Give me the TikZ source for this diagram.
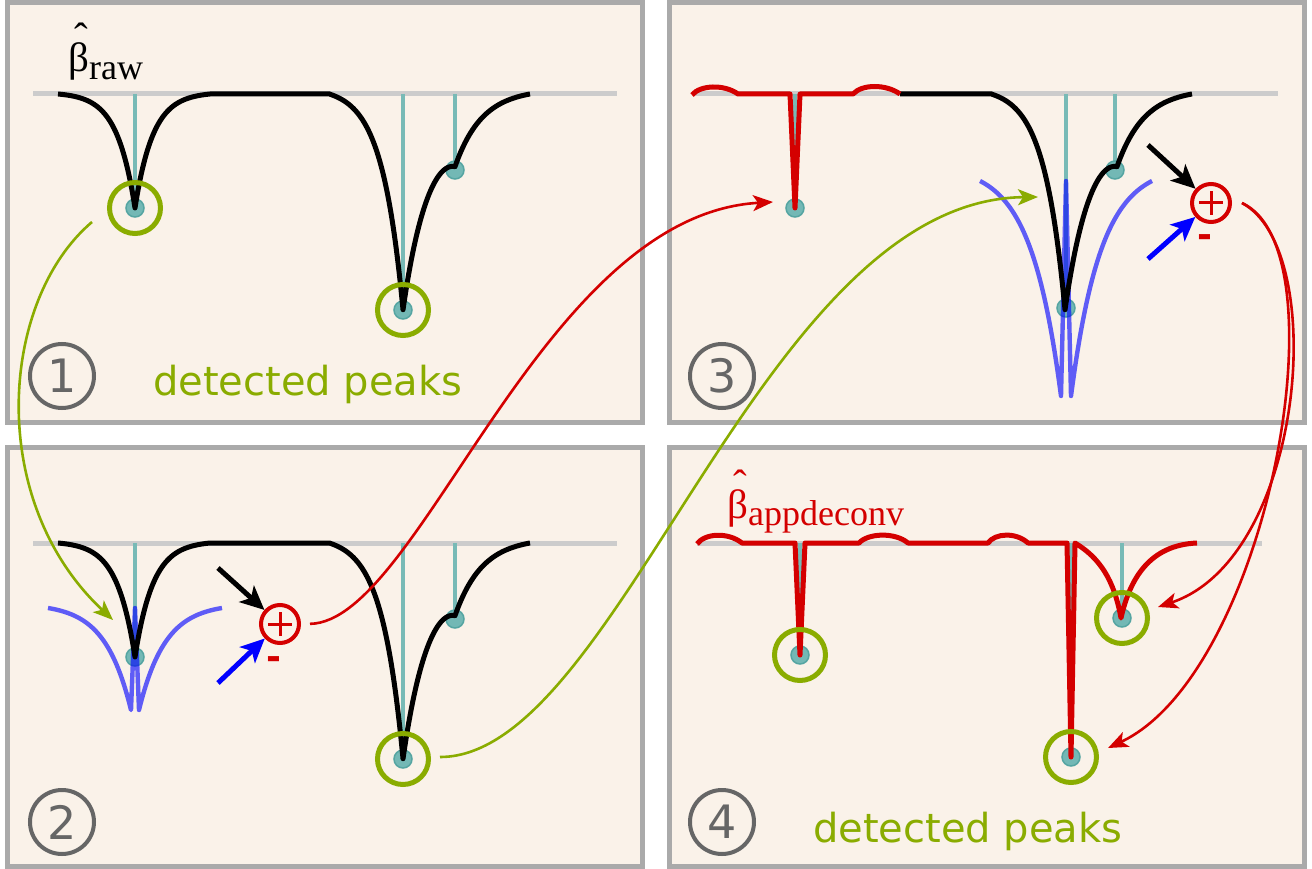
\documentclass[tikz,border=0pt]{standalone}
\usepackage{fontspec}
\setmainfont{DejaVu Sans}
\newfontfamily\serifface{Liberation Serif}
\newfontfamily\boldsans{DejaVu Sans Bold}
\usetikzlibrary{arrows.meta}

\definecolor{panelbg}{RGB}{250,242,233}
\definecolor{panelrim}{RGB}{170,170,170}
\definecolor{zeroline}{RGB}{204,204,204}
\definecolor{stick}{RGB}{120,186,182}
\definecolor{dotfill}{RGB}{115,184,181}
\definecolor{dotrim}{RGB}{85,165,162}
\definecolor{peakgreen}{RGB}{138,172,0}
\definecolor{estred}{RGB}{212,0,0}
\definecolor{numgray}{RGB}{102,102,102}

% left dip of the raw estimate (x in 58..210, baseline y=94), continues from (58,94)
\newcommand\leftdip{%
  -- plot[domain=58:135,samples=78] (\x,{94+114*ex(135-\x,18,77)})
  -- plot[domain=135:210,samples=76] (\x,{94+114*ex(\x-135,18,75)})}
% double dip of the raw estimate (x in 330..530), continues from (330,94)
\newcommand\rightdip{%
  -- plot[domain=330:403,samples=74] (\x,{94+211*ex(403-\x,21,73)+38*exp(-(455-\x)/25)})
  -- plot[domain=403:455,samples=53] (\x,{94+211*ex(\x-403,30,127)+38*exp(-(455-\x)/25)})
  -- plot[domain=455:530,samples=76] (\x,{94+211*ex(\x-403,30,127)+38*ex(\x-455,25,75)})}

\begin{document}
\begin{tikzpicture}[x=1pt,y=-1pt,
  declare function={ex(\d,\w,\D)=(exp(-(\d)/(\w))-exp(-(\D)/(\w)))/(1-exp(-(\D)/(\w)));},
  panel/.style={draw=panelrim,line width=5pt,fill=panelbg},
  zero/.style={draw=zeroline,line width=5pt},
  stickline/.style={draw=stick,line width=4.6pt},
  spot/.style={circle,draw=dotrim,fill=dotfill,line width=1.5pt,minimum size=18pt,inner sep=0pt},
  ring/.style={circle,draw=peakgreen,line width=5pt,minimum size=51pt,inner sep=0pt},
  trace/.style={line width=5pt,line join=round},
  kernel/.style={draw=blue,draw opacity=0.62,line width=4.4pt,line join=round},
  flow/.style={line width=2.6pt,-{Stealth[length=20pt,width=16pt,inset=5pt]}},
  push/.style={line width=5pt,-{Stealth[length=24pt,width=22pt,inset=6pt]}},
  sumnode/.style={circle,draw=estred,line width=4pt,minimum size=38pt,inner sep=0pt,
    path picture={\draw[estred,line width=3pt]
      (path picture bounding box.center) +(-12pt,0pt) -- +(12pt,0pt)
      (path picture bounding box.center) +(0pt,-12pt) -- +(0pt,12pt);}},
  minus/.style={text=estred,font=\boldsans\fontsize{36}{36}\selectfont,inner sep=0pt},
  stepnum/.style={circle,draw=numgray,line width=4pt,minimum size=64pt,inner sep=0pt,
    text=numgray,font=\fontsize{46}{46}\selectfont},
  found/.style={text=peakgreen,font=\fontsize{40}{42}\selectfont,inner sep=0pt,anchor=base west},
  hatlabel/.style={inner sep=0pt,anchor=base west,font=\serifface\fontsize{41}{41}\selectfont}]

\useasboundingbox (0,0) rectangle (1312,869);
\fill[white] (0,0) rectangle (1312,869);

% ---------- the four panels ----------
\path[panel] (7.5,2.5) rectangle (642.5,422.5);
\path[panel] (7.5,447.5) rectangle (642.5,866.5);
\path[panel] (669.5,2.5) rectangle (1304.5,422.5);
\path[panel] (669.5,447.5) rectangle (1304.5,866.5);

% ---------- panel 1: raw estimate and detected peaks ----------
\draw[zero] (33,94) -- (617,94);
\draw[stickline] (135,94) -- (135,208);
\draw[stickline] (403,94) -- (403,310);
\draw[stickline] (455,94) -- (455,170);
\node[spot] (a1) at (135,208) {};
\node[spot] (a2) at (403,310) {};
\node[spot] (a3) at (455,170) {};
\draw[trace] (58,94) \leftdip -- (330,94) \rightdip;
\node[ring] (ra1) at (135,208) {};
\node[ring] (ra2) at (403,310) {};
\node[hatlabel] (rawlabel) at (68,72)
  {\makebox[0pt][l]{\hspace{6pt}\raisebox{20pt}{ˆ}}β\raisebox{-8pt}{\fontsize{36}{36}\selectfont raw}};
\node[stepnum] (n1) at (62,376) {1};
\node[found] (det1) at (153,395) {detected peaks};

% ---------- panel 2: subtract the kernel at the first peak ----------
\begin{scope}[shift={(0,449)}]
  \draw[zero] (33,94) -- (617,94);
  \draw[stickline] (135,94) -- (135,208);
  \draw[stickline] (403,94) -- (403,310);
  \draw[stickline] (455,94) -- (455,170);
  \node[spot] (b1) at (135,208) {};
  \node[spot] (b2) at (403,310) {};
  \node[spot] (b3) at (455,170) {};
\end{scope}
\draw[kernel] (48,608) -- plot[domain=48:131,samples=84] (\x,{608+102*ex(131-\x,26,83)})
  -- (135,608) -- (139,710)
  -- plot[domain=139:222,samples=84] (\x,{608+102*ex(\x-139,26,83)});
\begin{scope}[shift={(0,449)}]
  \draw[trace] (58,94) \leftdip -- (330,94) \rightdip;
  \node[ring] (rb2) at (403,310) {};
\end{scope}
\node[stepnum] (n2) at (62,822) {2};
\node[sumnode] (plusA) at (280,624) {};
\node[minus] (minusA) at (274,663) {-};
\coordinate (blackA) at (218,568);
\coordinate (blueA) at (218,683);
\draw[push,black] (blackA) -- (plusA);
\draw[push,blue] (blueA) -- (plusA);

% ---------- panel 3: subtract the kernel at the second peak ----------
\draw[zero] (695,94) -- (1278,94);
\draw[stickline] (795,94) -- (795,208);
\begin{scope}[shift={(662,0)}]
  \draw[stickline] (404,94) -- (404,308);
  \draw[stickline] (453,94) -- (453,170);
  \node[spot] (c2) at (404,308) {};
  \node[spot] (c3) at (453,170) {};
\end{scope}
\node[spot] (c1) at (795,208) {};
\draw[kernel] (980,181) -- plot[domain=980:1061,samples=82] (\x,{181+215*ex(1061-\x,30,81)})
  -- (1066,181) -- (1071,396)
  -- plot[domain=1071:1152,samples=82] (\x,{181+215*ex(\x-1071,30,81)});
\begin{scope}[shift={(662,0)}]
  \draw[trace] (238,94) -- (330,94) \rightdip;
\end{scope}
\draw[trace,estred] (692,95) .. controls (700,85) and (724,84) .. (738,94)
  -- (790,94) -- (795,208) -- (800,94) -- (853,94)
  .. controls (862,84) and (886,84) .. (900,94);
\node[stepnum] (n3) at (722,376) {3};
\node[sumnode] (plusB) at (1211,203) {};
\node[minus] (minusB) at (1205,241) {-};
\coordinate (blackB) at (1148,145);
\coordinate (blueB) at (1148,259);
\draw[push,black] (blackB) -- (plusB);
\draw[push,blue] (blueB) -- (plusB);

% ---------- panel 4: deconvolved estimate and detected peaks ----------
\draw[zero] (697,543) -- (1262,543);
\draw[stickline] (800,543) -- (800,655);
\draw[stickline] (1071,543) -- (1071,757);
\draw[stickline] (1122,543) -- (1122,618);
\node[spot] (d1) at (800,655) {};
\node[spot] (d2) at (1071,757) {};
\node[spot] (d3) at (1122,618) {};
\draw[trace,estred] (697,544) .. controls (705,533) and (728,532) .. (742,543)
  -- (795,543) -- (800,655) -- (805,543) -- (859,543)
  .. controls (868,533) and (895,532) .. (908,543) -- (988,543)
  .. controls (995,533) and (1016,532) .. (1028,543) -- (1067,543)
  -- (1071,757) -- (1075,543)
  .. controls (1100,558) and (1114,580) .. (1121,618)
  .. controls (1130,578) and (1150,545) .. (1197,543);
\node[ring] (rd1) at (800,655) {};
\node[ring] (rd2) at (1071,757) {};
\node[ring] (rd3) at (1122,618) {};
\node[hatlabel,text=estred] (declabel) at (727,518)
  {\makebox[0pt][l]{\hspace{6pt}\raisebox{20pt}{ˆ}}β\raisebox{-7pt}{\fontsize{36}{36}\selectfont appdeconv}};
\node[stepnum] (n4) at (722,822) {4};
\node[found] (det2) at (813,842) {detected peaks};

% ---------- connectors between the panels ----------
\coordinate (g1s) at (92,222);
\coordinate (g1e) at (113,620);
\draw[flow,peakgreen] (g1s) .. controls (0,300) and (-15,500) .. (g1e);
\coordinate (g2s) at (440,757);
\coordinate (g2e) at (1038,197);
\draw[flow,peakgreen] (g2s) .. controls (620,757) and (760,200) .. (g2e);
\coordinate (r1e) at (773,202);
\draw[flow,estred,shorten <=9pt] (plusA.east) .. controls (420,622) and (540,215) .. (r1e);
\coordinate (r2s) at (1242,203);
\coordinate (r2e) at (1158,607);
\coordinate (r3e) at (1108,748);
\draw[flow,estred] (r2s) .. controls (1330,250) and (1305,558) .. (r2e);
\draw[flow,estred] (r2s) .. controls (1345,250) and (1268,673) .. (r3e);
\end{tikzpicture}
\end{document}
